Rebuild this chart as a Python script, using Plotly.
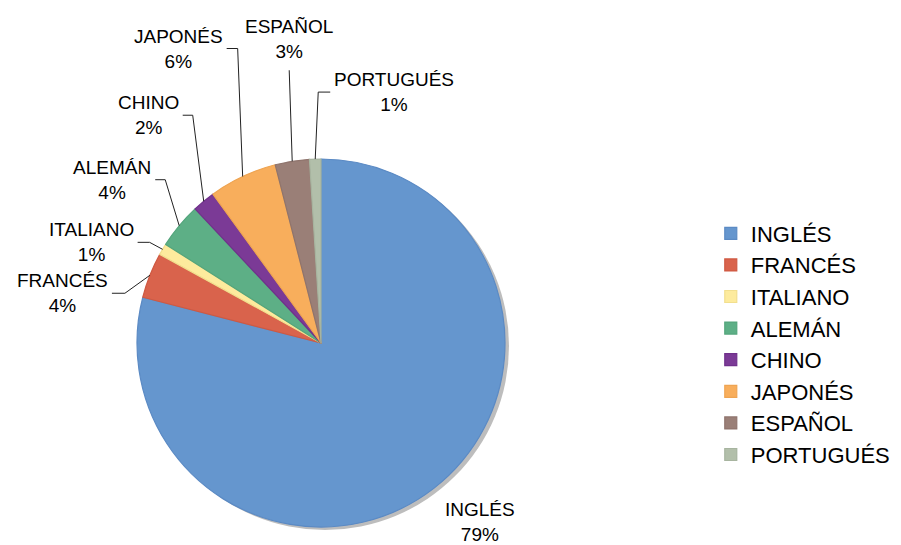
import math
import plotly.graph_objects as go

languages = ["INGLÉS", "FRANCÉS", "ITALIANO", "ALEMÁN", "CHINO", "JAPONÉS", "ESPAÑOL", "PORTUGUÉS"]
shares = [79, 4, 1, 4, 2, 6, 3, 1]
colors = ["#6596CE", "#D9634C", "#FDEB9D", "#5DAF86", "#7B3A96", "#F8AE5C", "#9A7F77", "#B2BFAA"]
borders = ["#5B8AC4", "#CF5942", "#F2DF8E", "#54A57C", "#70308B", "#EEA452", "#8F746D", "#A7B49F"]

W, H = 901, 545
PAGE = 8  # default body margin of the html page
cx, cy, r = 321 - PAGE, 343 - PAGE, 184  # pie centre / radius in figure pixels
FONT = "Liberation Sans, Arial, sans-serif"

# label leader style per slice: elbow offset from anchor, tick length
leaders = {
    "INGLÉS":    None,
    "FRANCÉS":   (-25, 18, -13),
    "ITALIANO":  (-13, -7, -12),
    "ALEMÁN":    (-14, -46, -10),
    "CHINO":     (-11, -86, -10),
    "JAPONÉS":   (-5, -128, -11),
    "ESPAÑOL":   (-3, -91, 0),
    "PORTUGUÉS": (3, -67, 12),
}

def px2paper(x, y):
    return x / W, 1 - y / H

fig = go.Figure()

# soft drop shadow behind the pie
fig.add_trace(go.Pie(
    values=[1], labels=["shadow"], marker=dict(colors=["#BDBDBD"]),
    domain=dict(x=[(cx - r + 4) / W, (cx + r + 4) / W], y=[1 - (cy + r + 3) / H, 1 - (cy - r + 3) / H]),
    textinfo="none", hoverinfo="skip", showlegend=False, sort=False,
))

fig.add_trace(go.Pie(
    labels=languages, values=shares, sort=False, direction="clockwise", rotation=0,
    marker=dict(colors=colors, line=dict(color=borders, width=1.2)),
    textinfo="none",
    domain=dict(x=[(cx - r) / W, (cx + r) / W], y=[1 - (cy + r) / H, 1 - (cy - r) / H]),
))

total = sum(shares)
cum = 0
for lab, val in zip(languages, shares):
    mid = (cum + val / 2) / total * 2 * math.pi
    cum += val
    axp = cx + r * math.sin(mid)
    ayp = cy - r * math.cos(mid)
    txt = f"{lab}<br>{round(100 * val / total)}%"
    lead = leaders[lab]
    if lead is None:
        x, y = px2paper(axp + 46, ayp + 34)
        fig.add_annotation(x=x, y=y, xref="paper", yref="paper", text=txt, showarrow=False,
                           xanchor="center", yanchor="middle", align="center")
        continue
    ex, ey, tick = lead
    elx, ely = axp + ex, ayp + ey
    endx = elx + tick
    pts = [px2paper(axp, ayp), px2paper(elx, ely), px2paper(endx, ely)]
    path = "M {} {} L {} {} L {} {}".format(*[c for p in pts for c in p])
    fig.add_shape(type="path", path=path, xref="paper", yref="paper",
                  line=dict(color="#222222", width=1))
    tx, ty = px2paper(endx, ely)
    if tick < 0:
        fig.add_annotation(x=tx, y=ty, xref="paper", yref="paper", text=txt, showarrow=False,
                           xanchor="right", yanchor="middle", align="center", xshift=-2)
    elif tick > 0:
        fig.add_annotation(x=tx, y=ty, xref="paper", yref="paper", text=txt, showarrow=False,
                           xanchor="left", yanchor="middle", align="center", xshift=2)
    else:
        fig.add_annotation(x=tx, y=ty, xref="paper", yref="paper", text=txt, showarrow=False,
                           xanchor="center", yanchor="bottom", align="center", yshift=6)

fig.update_annotations(font=dict(family=FONT, size=19, color="black"))

fig.update_layout(
    width=W, height=H,
    margin=dict(l=0, r=0, t=0, b=0),
    paper_bgcolor="white",
    font=dict(family=FONT, color="black"),
    legend=dict(x=0.78, y=0.3835, xanchor="left", yanchor="middle",
                font=dict(family=FONT, size=22, color="black")),
)

fig.write_html("out.html")
